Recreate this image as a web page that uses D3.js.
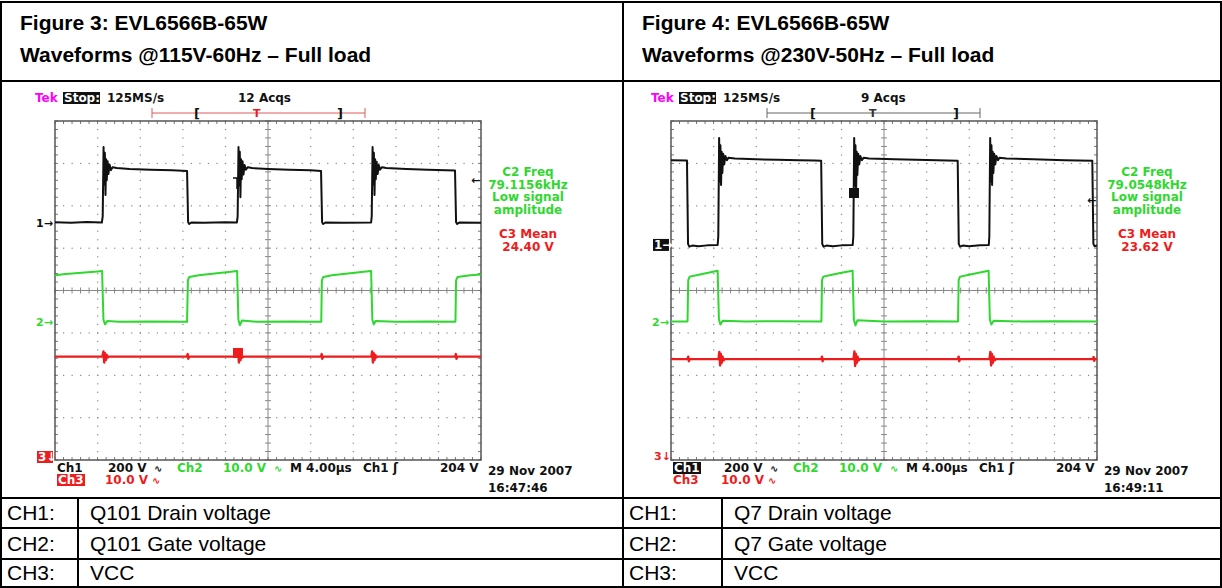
<!DOCTYPE html>
<html>
<head>
<meta charset="utf-8">
<script src="https://cdn.jsdelivr.net/npm/d3@7"></script>
<style>
  body { margin: 0; background: #fff; }
  svg { display: block; }
</style>
</head>
<body>
<div id="container"></div>
<script>
// waveform data: [time in us, volts]
const fig3Ch1 = [[0,2],[1.5,0],[3,3],[4.40,1],[4.48,30],[4.56,357],[4.62,180],[4.68,330],[4.74,131],[4.80,300],[4.86,200],[4.94,290],[5.02,230],[5.12,275],[5.24,248],[5.40,262],[5.8,258],[7,254],[9,250],[11,247],[12.40,244],[12.50,2],[12.60,-6],[12.8,1],[14,0],[16,2],[17.08,1],
  [17.15,30],[17.23,357],[17.29,175],[17.35,335],[17.41,120],[17.47,300],[17.53,205],[17.61,290],[17.70,228],[17.80,272],[17.92,250],[18.1,262],[18.5,258],[20,254],[22,250],[24,247],[24.98,244],[25.08,2],[25.18,-6],[25.4,1],[27,0],[29.68,1],
  [29.74,30],[29.82,357],[29.88,180],[29.94,330],[30.00,131],[30.06,300],[30.12,205],[30.2,288],[30.3,230],[30.4,272],[30.52,250],[30.7,262],[31.1,258],[33,254],[35,250],[37.56,246],[37.66,2],[37.76,-6],[38,1],[40,0]];
const fig3Ch2 = [[0,11.0],[1,11.3],[2.5,11.6],[4.0,11.9],[4.42,12.0],[4.55,0.5],[4.70,-0.6],[4.9,0.2],[6,0],[9,0.1],[12.40,0],[12.48,9.8],[12.6,10.6],[13.5,11.0],[15,11.4],[16.5,11.8],[17.10,12.0],
  [17.22,0.5],[17.36,-0.8],[17.55,0.3],[19,0],[22,0.1],[25.00,0],[25.06,9.8],[25.2,10.6],[26,11.0],[27.5,11.4],[29,11.8],[29.68,12.0],
  [29.80,0.5],[29.94,-0.6],[30.1,0.2],[32,0],[35,0.1],[37.60,0],[37.66,9.8],[37.8,10.6],[39,11.0],[40,11.2]];
const fig3Ch3 = [[0,24.4],[4.45,24.4],[4.55,25.6],[4.62,23.0],[4.70,25.2],[4.78,23.6],[4.86,24.8],[4.95,24.2],[5.05,24.4],[12.40,24.4],[12.46,25.0],[12.52,23.9],[12.58,24.4],
  [17.12,24.4],[17.20,25.7],[17.27,23.0],[17.34,25.1],[17.42,23.6],[17.5,24.8],[17.6,24.2],[17.7,24.4],[24.98,24.4],[25.04,25.0],[25.10,23.9],[25.16,24.4],
  [29.70,24.4],[29.78,25.6],[29.85,23.0],[29.92,25.2],[30.0,23.6],[30.08,24.8],[30.17,24.2],[30.27,24.4],[37.58,24.4],[37.64,25.0],[37.70,23.9],[37.76,24.4],[40,24.4]];

const fig4Ch1 = [[0,400],[1.50,398],[1.60,5],[1.72,-8],[2.0,-3],[2.6,-6],[3.4,-2],[4.38,0],
  [4.44,40],[4.52,505],[4.58,300],[4.64,470],[4.70,283],[4.76,440],[4.82,340],[4.90,430],[5.0,380],[5.1,420],[5.25,400],[5.4,412],[6,408],[8,404],[10,402],[12,400],[13.5,398],[14.10,397],
  [14.20,5],[14.32,-8],[14.6,-3],[15.2,-6],[16,-2],[17.06,0],
  [17.12,40],[17.20,505],[17.26,280],[17.32,470],[17.38,252],[17.44,440],[17.50,330],[17.58,430],[17.68,380],[17.78,420],[17.92,400],[18.1,412],[18.6,408],[21,404],[24,401],[26.92,397],
  [27.02,5],[27.14,-8],[27.4,-3],[28,-6],[29,-2],[29.84,0],
  [29.89,40],[29.97,505],[30.03,300],[30.09,470],[30.15,283],[30.21,440],[30.27,340],[30.35,430],[30.45,380],[30.55,420],[30.7,400],[30.85,412],[31.5,408],[34,404],[37,400],[39.56,397],
  [39.66,5],[39.78,-6],[40,-2]];
const fig4Ch2 = [[0,0],[1.55,0],[1.62,9.8],[1.75,10.6],[2.5,11.0],[3.5,11.5],[4.38,12.0],[4.50,0.5],[4.64,-0.7],[4.85,0.2],[7,0],[10,0.1],[14.12,0],
  [14.18,9.8],[14.3,10.6],[15,11.0],[16,11.5],[17.05,12.0],[17.17,0.5],[17.32,-0.9],[17.5,0.3],[20,0],[24,0.1],[26.95,0],
  [27.01,9.8],[27.14,10.6],[27.9,11.0],[28.9,11.5],[29.82,12.0],[29.94,0.5],[30.08,-0.7],[30.3,0.2],[33,0],[36,0.1],[40,0]];
const fig4Ch3 = [[0,23.8],[1.56,23.8],[1.62,24.4],[1.68,23.3],[1.74,23.8],[4.46,23.8],[4.54,25.5],[4.61,22.3],[4.68,25.0],[4.76,22.9],[4.84,24.4],[4.93,23.5],[5.03,23.8],
  [14.12,23.8],[14.18,24.4],[14.24,23.3],[14.30,23.8],[17.14,23.8],[17.22,25.6],[17.29,22.2],[17.36,25.0],[17.44,22.9],[17.52,24.4],[17.61,23.5],[17.71,23.8],
  [26.95,23.8],[27.01,24.4],[27.07,23.3],[27.13,23.8],[29.91,23.8],[29.99,25.5],[30.06,22.3],[30.13,25.0],[30.21,22.9],[30.29,24.4],[30.38,23.5],[30.48,23.8],
  [39.62,23.8],[39.68,24.3],[39.74,23.4],[39.80,23.8],[40,23.8]];

// scope settings: volts/div and ground position (divisions from centre)
const voltsPerDiv = [200, 10, 10];
const fig3Ground = [1.6, -0.74, -4];
const fig4Ground = [1.075, -0.733, -4];

const titles = [["Figure 3: EVL6566B-65W", "Waveforms @115V-60Hz \u2013 Full load"],
                ["Figure 4: EVL6566B-65W", "Waveforms @230V-50Hz \u2013 Full load"]];
const acqs = ["12 Acqs", "9 Acqs"];
const freqText = [["C2 Freq", "79.1156kHz", "Low signal", "amplitude"], ["C2 Freq", "79.0548kHz", "Low signal", "amplitude"]];
const meanText = [["C3 Mean", "24.40 V"], ["C3 Mean", "23.62 V"]];
const stamps = [["29 Nov 2007", "16:47:46"], ["29 Nov 2007", "16:49:11"]];
const chLabels = ["CH1:", "CH2:", "CH3:"];
const chNames = [["Q101 Drain voltage", "Q101 Gate voltage", "VCC"], ["Q7 Drain voltage", "Q7 Gate voltage", "VCC"]];

const W = 1222, H = 588;
const GREEN = "#2fd82f", RED = "#ee1c1c", MAG = "#ff00ff";
const scopeFont = "DejaVu Sans";

let svg = d3.select("#container").append("svg")
  .attr("width", W).attr("height", H)
  .style("background-color", "white");

// ---------- table frame ----------
const colX = [1, 623, 1221];
const rowY = [2, 81, 498, 528, 559, 587];
let frame = svg.append("g").attr("stroke", "black").attr("stroke-width", 2);
rowY.forEach(y => frame.append("line").attr("x1", 0).attr("x2", W).attr("y1", y).attr("y2", y));
colX.forEach(x => frame.append("line").attr("x1", x).attr("x2", x).attr("y1", 1).attr("y2", H));
[78, 722].forEach(x => frame.append("line").attr("x1", x).attr("x2", x).attr("y1", rowY[2]).attr("y2", H));

titles.forEach((t, i) => {
  let g = svg.append("g").attr("font-family", "Liberation Sans, Arial").attr("font-weight", "bold").attr("font-size", 21);
  g.append("text").attr("x", colX[i] + 19).attr("y", 30).text(t[0]);
  g.append("text").attr("x", colX[i] + 19).attr("y", 62).text(t[1]);
});
chLabels.forEach((c, r) => {
  [0, 1].forEach(i => {
    let y = (rowY[r + 2] + rowY[r + 3]) / 2 + 7;
    svg.append("text").attr("x", colX[i] + 6).attr("y", y)
      .attr("font-family", "Liberation Sans, Arial").attr("font-size", 21).text(c);
    svg.append("text").attr("x", [78, 722][i] + 12).attr("y", y)
      .attr("font-family", "Liberation Sans, Arial").attr("font-size", 21).text(chNames[i][r]);
  });
});

// ---------- one scope screen ----------
function drawScope(ox, idx, data, ground) {
  let g = svg.append("g").attr("transform", `translate(${ox},0)`);
  let x = d3.scaleLinear().domain([0, 40]).range([55, 481]);
  let div = d3.scaleLinear().domain([-4, 4]).range([460, 121]);
  let grid = g.append("g");
  let minorX = d3.range(0, 40.01, 0.8), minorY = d3.range(-4, 4.01, 0.2);

  // dotted division lines
  d3.range(4, 40, 4).filter(t => t !== 20).forEach(t => {
    minorY.forEach(v => grid.append("rect").attr("x", x(t) - 0.5).attr("y", div(v) - 0.5)
      .attr("width", 1.2).attr("height", 1.2).attr("fill", "#888"));
  });
  d3.range(-3, 4, 1).filter(v => v !== 0).forEach(v => {
    minorX.forEach(t => grid.append("rect").attr("x", x(t) - 0.5).attr("y", div(v) - 0.5)
      .attr("width", 1.2).attr("height", 1.2).attr("fill", "#888"));
  });
  // centre cross and border with ticks
  grid.append("line").attr("x1", x(20)).attr("x2", x(20)).attr("y1", div(4)).attr("y2", div(-4)).attr("stroke", "#888");
  grid.append("line").attr("x1", x(0)).attr("x2", x(40)).attr("y1", div(0)).attr("y2", div(0)).attr("stroke", "#888");
  minorX.forEach(t => {
    grid.append("line").attr("x1", x(t)).attr("x2", x(t)).attr("y1", div(0) - 3).attr("y2", div(0) + 3).attr("stroke", "#888");
    grid.append("line").attr("x1", x(t)).attr("x2", x(t)).attr("y1", div(4)).attr("y2", div(4) + 3).attr("stroke", "#777");
    grid.append("line").attr("x1", x(t)).attr("x2", x(t)).attr("y1", div(-4)).attr("y2", div(-4) - 3).attr("stroke", "#777");
  });
  minorY.forEach(v => {
    grid.append("line").attr("x1", x(20) - 3).attr("x2", x(20) + 3).attr("y1", div(v)).attr("y2", div(v)).attr("stroke", "#888");
    grid.append("line").attr("x1", x(0)).attr("x2", x(0) + 3).attr("y1", div(v)).attr("y2", div(v)).attr("stroke", "#777");
    grid.append("line").attr("x1", x(40)).attr("x2", x(40) - 3).attr("y1", div(v)).attr("y2", div(v)).attr("stroke", "#777");
  });
  grid.append("rect").attr("x", x(0)).attr("y", div(4)).attr("width", x(40) - x(0)).attr("height", div(-4) - div(4))
    .attr("fill", "none").attr("stroke", "#555").attr("stroke-width", 1.5);

  // traces
  const colors = ["#111", GREEN, RED];
  const widths = [2, 2, 2.4];
  data.forEach((d, c) => {
    let line = d3.line().x(p => x(p[0])).y(p => div(ground[c] + p[1] / voltsPerDiv[c]));
    g.append("path").datum(d).attr("d", line).attr("fill", "none")
      .attr("stroke", colors[c]).attr("stroke-width", widths[c]).attr("stroke-linejoin", "round");
  });

  let txt = (px, py, s, col) => {
    let t = g.append("text").attr("x", px).attr("y", py).attr("font-family", scopeFont)
      .attr("font-weight", "bold").attr("font-size", 12).attr("fill", col || "#111").text(s);
    return t;
  };
  let boxTxt = (px, py, w, s, bg) => {
    g.append("rect").attr("x", px - 1).attr("y", py - 10).attr("width", w).attr("height", 12).attr("fill", bg);
    txt(px, py, s, "white");
  };

  // header line
  txt(35, 102, "Tek", MAG);
  boxTxt(64, 102, 37, "Stop:", "#111");
  txt(107, 102, "125MS/s");
  txt(idx ? 245 : 238, 102, acqs[idx]);
  let barCol = idx ? "#666" : "#e05a5a";
  let b0 = idx ? 151 : 152, b1 = idx ? 364 : 365;
  g.append("line").attr("x1", b0).attr("x2", b1).attr("y1", 113).attr("y2", 113).attr("stroke", barCol);
  [b0, b1].forEach(bx => g.append("line").attr("x1", bx).attr("x2", bx).attr("y1", 108).attr("y2", 118).attr("stroke", barCol));
  txt(194, 118, "[").attr("font-size", 13);
  txt(337, 118, "]").attr("font-size", 13);
  txt(253, 117, "T", idx ? "#333" : RED).attr("font-size", 11);

  // right readouts
  freqText[idx].forEach((s, k) => txt(idx ? 531 : 528, 176 + k * 12.5, s, GREEN).attr("text-anchor", "middle"));
  meanText[idx].forEach((s, k) => txt(idx ? 531 : 528, 238 + k * 12.5, s, RED).attr("text-anchor", "middle"));
  txt(471, idx ? 204 : 184, "\u2190").attr("font-size", 11);

  // ground markers and trigger marks
  if (idx === 0) {
    txt(36, div(ground[0]) + 4, "1\u2192").attr("font-size", 11);
    boxTxt(38, 461, 16, "3\u2193", RED);
    g.append("rect").attr("x", 233).attr("y", 348).attr("width", 10).attr("height", 10).attr("fill", RED);
    g.append("path").attr("d", "M233,178H241M237,178V189").attr("stroke", "#111").attr("stroke-width", 1.5).attr("fill", "none");
  } else {
    boxTxt(38, div(ground[0]) + 4, 16, "1\u2192", "#111");
    txt(38, 460, "3\u2193", RED).attr("font-size", 11);
    g.append("rect").attr("x", 233).attr("y", 188).attr("width", 10).attr("height", 10).attr("fill", "#111");
  }
  txt(36, div(ground[1]) + 4, "2\u2192", GREEN).attr("font-size", 11);

  // bottom readouts
  if (idx === 0) txt(57, 472, "Ch1"); else boxTxt(58, 472, 28, "Ch1", "#111");
  txt(108, 472, "200 V");
  txt(154, 472, "\u223f").attr("font-size", 10);
  txt(177, 472, "Ch2", GREEN);
  txt(223, 472, "10.0 V", GREEN);
  txt(274, 472, "\u223f", GREEN).attr("font-size", 10);
  txt(290, 472, "M 4.00\u00b5s");
  txt(363, 472, "Ch1 \u0283");
  txt(440, 472, "204 V");
  txt(488, 475, stamps[idx][0]);
  txt(488, 492, stamps[idx][1]);
  if (idx === 0) boxTxt(58, 484, 28, "Ch3", RED); else txt(57, 484, "Ch3", RED);
  txt(105, 484, "10.0 V", RED);
  txt(152, 484, "\u223f", RED).attr("font-size", 10);
}

drawScope(0, 0, [fig3Ch1, fig3Ch2, fig3Ch3], fig3Ground);
drawScope(616, 1, [fig4Ch1, fig4Ch2, fig4Ch3], fig4Ground);
</script>
</body>
</html>
